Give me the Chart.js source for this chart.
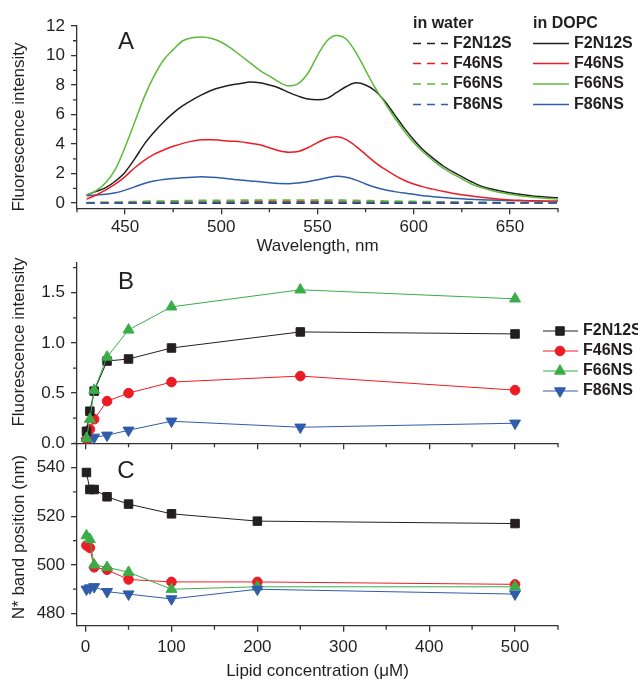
<!DOCTYPE html>
<html>
<head>
<meta charset="utf-8">
<title>Fluorescence spectra and lipid titration</title>
<script src="https://cdn.jsdelivr.net/npm/chart.js@4.4.1/dist/chart.umd.min.js"></script>
<style>
  html, body { margin: 0; padding: 0; background: #fff; }
  #quadro { position: relative; width: 638px; height: 682px; }
  #quadro canvas { position: absolute; left: 0; top: 0; }
</style>
</head>
<body>
<div id="quadro">
  <canvas id="graficoA" width="638" height="682"></canvas>
  <canvas id="graficoB" width="638" height="682"></canvas>
  <canvas id="graficoC" width="638" height="682"></canvas>
</div>
<script>
// ===== DADOS =====
const seriesNames = ['F2N12S', 'F46NS', 'F66NS', 'F86NS'];

// painel A: espectros (nm)
const wavelengths = [430, 435, 440, 445, 450, 455, 460, 465, 470, 475, 480, 485, 490, 495, 500, 505, 510, 515, 520, 525,
  530, 535, 540, 545, 550, 555, 560, 565, 570, 575, 580, 585, 590, 595, 600, 605, 610, 615, 620, 625,
  630, 635, 640, 645, 650, 655, 660, 665, 670, 675];

const dopcF2N12S = [0.55, 0.8, 1.05, 1.5, 2.1, 3.0, 4.0, 4.8, 5.5, 6.1, 6.6, 7.0, 7.35, 7.65, 7.85, 8.0, 8.1, 8.2, 8.15, 8.0,
  7.8, 7.5, 7.25, 7.05, 7.0, 7.1, 7.5, 7.9, 8.15, 8.0, 7.6, 6.9, 6.0, 5.1, 4.3, 3.6, 3.05, 2.55, 2.15, 1.8,
  1.45, 1.15, 0.97, 0.83, 0.7, 0.6, 0.52, 0.45, 0.4, 0.36];
const dopcF46NS = [0.28, 0.55, 0.9, 1.3, 1.8, 2.4, 2.9, 3.3, 3.6, 3.85, 4.05, 4.2, 4.3, 4.3, 4.25, 4.2, 4.15, 4.05, 3.95, 3.75,
  3.55, 3.45, 3.5, 3.75, 4.1, 4.4, 4.5, 4.3, 3.85, 3.3, 2.75, 2.3, 1.9, 1.55, 1.3, 1.1, 0.95, 0.8, 0.67, 0.57,
  0.48, 0.4, 0.33, 0.27, 0.22, 0.19, 0.16, 0.14, 0.13, 0.12];
const dopcF66NS = [0.55, 0.85, 1.4, 2.3, 3.8, 5.5, 7.2, 8.6, 9.7, 10.4, 11.0, 11.2, 11.25, 11.15, 10.9, 10.5, 10.0, 9.5, 9.0, 8.6,
  8.2, 7.95, 8.1, 8.8, 10.0, 11.0, 11.35, 11.1, 10.2, 9.0, 7.8, 6.8, 5.8, 4.9, 4.1, 3.45, 2.9, 2.4, 2.0, 1.65,
  1.3, 1.05, 0.87, 0.72, 0.6, 0.5, 0.43, 0.37, 0.32, 0.28];
const dopcF86NS = [0.5, 0.55, 0.6, 0.7, 0.88, 1.1, 1.33, 1.5, 1.6, 1.67, 1.72, 1.76, 1.78, 1.75, 1.7, 1.63, 1.56, 1.5, 1.45, 1.38,
  1.33, 1.32, 1.37, 1.45, 1.58, 1.72, 1.82, 1.75, 1.56, 1.3, 1.08, 0.9, 0.78, 0.68, 0.6, 0.5, 0.44, 0.38, 0.33, 0.29,
  0.26, 0.23, 0.21, 0.19, 0.17, 0.16, 0.15, 0.14, 0.13, 0.12];

const waterF2N12S = [0.01, 0.01, 0.01, 0.01, 0.01, 0.01, 0.01, 0.01, 0.01, 0.01, 0.01, 0.01, 0.01, 0.01, 0.01, 0.01, 0.01, 0.01, 0.01, 0.01,
  0.01, 0.01, 0.01, 0.01, 0.01, 0.01, 0.01, 0.01, 0.01, 0.01, 0.01, 0.01, 0.01, 0.01, 0.01, 0.01, 0.01, 0.01, 0.01, 0.01,
  0.01, 0.01, 0.01, 0.01, 0.01, 0.01, 0.01, 0.01, 0.01, 0.01];
const waterF46NS = [0.01, 0.02, 0.03, 0.03, 0.04, 0.04, 0.05, 0.05, 0.05, 0.06, 0.06, 0.06, 0.07, 0.07, 0.07, 0.07, 0.07, 0.08, 0.08, 0.08,
  0.08, 0.08, 0.08, 0.08, 0.08, 0.08, 0.07, 0.07, 0.07, 0.06, 0.06, 0.05, 0.05, 0.05, 0.04, 0.04, 0.04, 0.03, 0.03, 0.03,
  0.03, 0.02, 0.02, 0.02, 0.02, 0.02, 0.02, 0.02, 0.02, 0.02];
const waterF66NS = [0.03, 0.04, 0.05, 0.07, 0.08, 0.1, 0.12, 0.13, 0.14, 0.15, 0.16, 0.17, 0.18, 0.18, 0.19, 0.19, 0.2, 0.2, 0.21, 0.21,
  0.2, 0.2, 0.2, 0.2, 0.2, 0.2, 0.2, 0.19, 0.18, 0.17, 0.15, 0.14, 0.13, 0.12, 0.11, 0.1, 0.09, 0.08, 0.07, 0.07,
  0.06, 0.05, 0.05, 0.05, 0.04, 0.04, 0.04, 0.03, 0.03, 0.03];
const waterF86NS = [0.02, 0.02, 0.02, 0.02, 0.02, 0.03, 0.03, 0.03, 0.03, 0.03, 0.03, 0.03, 0.03, 0.03, 0.03, 0.03, 0.03, 0.03, 0.03, 0.03,
  0.03, 0.03, 0.03, 0.03, 0.03, 0.03, 0.03, 0.03, 0.03, 0.03, 0.03, 0.03, 0.03, 0.03, 0.03, 0.03, 0.03, 0.03, 0.03, 0.03,
  0.03, 0.03, 0.02, 0.02, 0.02, 0.02, 0.02, 0.02, 0.02, 0.02];

const aTicksX = [450, 500, 550, 600, 650];
const aMinorX = [425, 475, 525, 575, 625, 675];
const aTicksY = [0, 2, 4, 6, 8, 10, 12];
const aMinorY = [1, 3, 5, 7, 9, 11];

// painel B: intensidade vs concentração lipídica (uM)
const concB = [1, 5, 10, 25, 50, 100, 250, 500];
const intF2N12S = [0.12, 0.32, 0.52, 0.82, 0.84, 0.95, 1.11, 1.09];
const intF46NS = [0.04, 0.14, 0.24, 0.42, 0.50, 0.61, 0.67, 0.53];
const intF66NS = [0.05, 0.24, 0.53, 0.86, 1.13, 1.36, 1.53, 1.44];
const intF86NS = [0.02, 0.04, 0.06, 0.08, 0.13, 0.22, 0.16, 0.20];
const bTicksY = [0, 0.5, 1.0, 1.5];
const bMinorY = [0.25, 0.75, 1.25, 1.75];

// painel C: posição da banda N* (nm)
const concC = [1, 5, 10, 25, 50, 100, 200, 500];
const posF2N12S = [538, 531, 531, 528, 525, 521, 518, 517];
const posF46NS = [508, 507, 499, 498, 494, 493, 493, 492];
const posF66NS = [512, 510.5, 500, 499, 497, 490, 491, 491];
const posF86NS = [490, 490.5, 491, 489, 488, 486, 490, 488];
const cTicksY = [480, 500, 520, 540];
const cMinorY = [490, 510, 530, 550];

const concTicks = [0, 100, 200, 300, 400, 500];
const concMinor = [50, 150, 250, 350, 450, 550];

// ===== ESTILO =====
const FONTE = "'Liberation Sans', Arial, sans-serif";
const COR_TEXTO = '#231f20';
const COR_EIXO = '#333333';
const cores = {
  F2N12S: '#231f20',
  F46NS: '#ed1c24',
  F66NS: '#5dbb3a',
  F66NS_B: '#3aad48',
  F86NS: '#2f5daa'
};

Chart.defaults.font.family = FONTE;
Chart.defaults.font.size = 17;
Chart.defaults.color = COR_TEXTO;

function pontos(xs, ys) {
  return xs.map((x, i) => ({ x: x, y: ys[i] }));
}

function eixoX(min, max, ticks, opcoes) {
  return {
    type: 'linear', position: 'bottom', min: min, max: max, bounds: 'data',
    afterBuildTicks: s => { s.ticks = ticks.map(v => ({ value: v })); },
    afterFit: s => { s.height = opcoes.altura; },
    border: { display: true, color: COR_EIXO, width: 1.3 },
    grid: { drawOnChartArea: false, drawTicks: true, tickLength: 6, color: COR_EIXO, lineWidth: 1.3 },
    ticks: {
      autoSkip: false, maxRotation: 0, padding: opcoes.pad || 0, color: COR_TEXTO,
      callback: opcoes.semRotulo ? () => '' : v => String(v)
    },
    title: opcoes.titulo
      ? { display: true, text: opcoes.titulo, padding: 0, color: COR_TEXTO }
      : { display: false }
  };
}

function eixoY(min, max, ticks, opcoes) {
  return {
    type: 'linear', position: 'left', min: min, max: max, bounds: 'data',
    afterBuildTicks: s => { s.ticks = ticks.map(v => ({ value: v })); },
    afterFit: s => { s.width = 77; },
    border: { display: true, color: COR_EIXO, width: 1.3 },
    grid: { drawOnChartArea: false, drawTicks: true, tickLength: 6, color: COR_EIXO, lineWidth: 1.3 },
    ticks: { autoSkip: false, padding: 6, color: COR_TEXTO, callback: opcoes.formato || (v => String(v)) },
    title: { display: false }
  };
}

// ticks menores (o Chart.js não tem ticks secundários)
function ticksMenores(mapa) {
  return {
    id: 'ticksMenores',
    afterDraw(chart) {
      const ctx = chart.ctx;
      ctx.save();
      ctx.strokeStyle = COR_EIXO;
      ctx.lineWidth = 1.3;
      ctx.beginPath();
      Object.keys(mapa).forEach(id => {
        const s = chart.scales[id];
        mapa[id].forEach(v => {
          const p = s.getPixelForValue(v);
          if (s.isHorizontal()) {
            ctx.moveTo(p, s.top);
            ctx.lineTo(p, s.top + 4);
          } else {
            ctx.moveTo(s.right - 4, p);
            ctx.lineTo(s.right, p);
          }
        });
      });
      ctx.stroke();
      ctx.restore();
    }
  };
}

// letra do painel + título vertical (o título do Origin não fica centrado no eixo)
function textosPainel(letra, xLetra, yLetra, tituloY, yTitulo) {
  return {
    id: 'textos' + letra,
    afterDraw(chart) {
      const ctx = chart.ctx;
      ctx.save();
      ctx.fillStyle = COR_TEXTO;
      ctx.font = '24px ' + FONTE;
      ctx.textAlign = 'center';
      ctx.textBaseline = 'middle';
      ctx.fillText(letra, xLetra, yLetra);
      ctx.font = '17px ' + FONTE;
      ctx.translate(19.5, yTitulo);
      ctx.rotate(-Math.PI / 2);
      ctx.fillText(tituloY, 0, 0);
      ctx.restore();
    }
  };
}

// ===== LEGENDA DO PAINEL A =====
const legendaA = {
  id: 'legendaA',
  afterDraw(chart) {
    const ctx = chart.ctx;
    const linhas = [43.5, 63.5, 84, 104.5];
    const coresA = [cores.F2N12S, cores.F46NS, cores.F66NS, cores.F86NS];
    ctx.save();
    ctx.fillStyle = COR_TEXTO;
    ctx.font = 'bold 16px ' + FONTE;
    ctx.textBaseline = 'alphabetic';
    ctx.fillText('in water', 413, 28);
    ctx.fillText('in DOPC', 533, 28);
    ctx.textBaseline = 'middle';
    seriesNames.forEach((nome, i) => {
      const y = linhas[i];
      ctx.strokeStyle = coresA[i];
      ctx.lineWidth = 1.6;
      ctx.setLineDash([8, 6]);
      ctx.beginPath();
      ctx.moveTo(413, y);
      ctx.lineTo(448, y);
      ctx.stroke();
      ctx.setLineDash([]);
      ctx.beginPath();
      ctx.moveTo(533, y);
      ctx.lineTo(569, y);
      ctx.stroke();
      ctx.fillStyle = COR_TEXTO;
      ctx.fillText(nome, 453, y);
      ctx.fillText(nome, 574, y);
    });
    ctx.restore();
  }
};

// ===== LEGENDA DO PAINEL B =====
const marcadores = [
  { cor: cores.F2N12S, pointStyle: 'rect', radius: 6, rotation: 0 },
  { cor: cores.F46NS, pointStyle: 'circle', radius: 4.8, rotation: 0 },
  { cor: cores.F66NS_B, pointStyle: 'triangle', radius: 6.3, rotation: 0 },
  { cor: cores.F86NS, pointStyle: 'triangle', radius: 6.3, rotation: 180 }
];

const legendaB = {
  id: 'legendaB',
  afterDraw(chart) {
    const ctx = chart.ctx;
    const linhas = [331, 351, 371, 391];
    ctx.save();
    ctx.font = 'bold 16px ' + FONTE;
    ctx.textBaseline = 'middle';
    seriesNames.forEach((nome, i) => {
      const y = linhas[i];
      const m = marcadores[i];
      ctx.strokeStyle = m.cor;
      ctx.fillStyle = m.cor;
      ctx.lineWidth = 1;
      ctx.beginPath();
      ctx.moveTo(543, y);
      ctx.lineTo(578, y);
      ctx.stroke();
      Chart.helpers.drawPoint(ctx, { pointStyle: m.pointStyle, radius: m.radius, rotation: m.rotation, borderWidth: 1 }, 560, y);
      ctx.fillStyle = COR_TEXTO;
      ctx.fillText(nome, 583, y);
    });
    ctx.restore();
  }
};

// ===== GRÁFICO A =====
function linhaEspectro(dados, cor, tracejado) {
  return {
    data: pontos(wavelengths, dados),
    borderColor: cor,
    borderWidth: tracejado ? 1.8 : 1.5,
    borderDash: tracejado ? [8, 6] : [],
    pointRadius: 0,
    cubicInterpolationMode: 'monotone',
    fill: false
  };
}

new Chart(document.getElementById('graficoA'), {
  type: 'line',
  data: {
    datasets: [
      linhaEspectro(waterF86NS, cores.F86NS, true),
      linhaEspectro(waterF66NS, cores.F66NS, true),
      linhaEspectro(waterF46NS, cores.F46NS, true),
      linhaEspectro(waterF2N12S, cores.F2N12S, true),
      linhaEspectro(dopcF66NS, cores.F66NS, false),
      linhaEspectro(dopcF2N12S, cores.F2N12S, false),
      linhaEspectro(dopcF46NS, cores.F46NS, false),
      linhaEspectro(dopcF86NS, cores.F86NS, false)
    ]
  },
  options: {
    responsive: false, animation: false, devicePixelRatio: 1,
    layout: { padding: { top: 26, left: 0, right: 80, bottom: 682 - 208.3 - 48 } },
    plugins: { legend: { display: false }, tooltip: { enabled: false } },
    scales: {
      x: eixoX(425, 675, aTicksX, { altura: 48, pad: 3, titulo: 'Wavelength, nm' }),
      y: eixoY(-0.35, 12, aTicksY, {})
    }
  },
  plugins: [ticksMenores({ x: aMinorX, y: aMinorY }), textosPainel('A', 126, 42, 'Fluorescence intensity', 127), legendaA]
});

// ===== GRÁFICOS B e C =====
function linhaMarcador(xs, ys, i) {
  const m = marcadores[i];
  return {
    data: pontos(xs, ys),
    borderColor: m.cor,
    backgroundColor: m.cor,
    borderWidth: 1,
    pointStyle: m.pointStyle,
    pointRadius: m.radius,
    pointRotation: m.rotation,
    pointBorderWidth: 1,
    pointBorderColor: m.cor,
    pointBackgroundColor: m.cor,
    tension: 0,
    fill: false
  };
}

new Chart(document.getElementById('graficoB'), {
  type: 'line',
  data: {
    datasets: [
      linhaMarcador(concB, intF66NS, 2),
      linhaMarcador(concB, intF2N12S, 0),
      linhaMarcador(concB, intF46NS, 1),
      linhaMarcador(concB, intF86NS, 3)
    ]
  },
  options: {
    responsive: false, animation: false, devicePixelRatio: 1,
    layout: { padding: { top: 262.7, left: 0, right: 80, bottom: 682 - 443.3 - 10 } },
    plugins: { legend: { display: false }, tooltip: { enabled: false } },
    scales: {
      x: eixoX(-10, 550, concTicks, { altura: 10, semRotulo: true }),
      y: eixoY(0, 1.8, bTicksY, { formato: v => v.toFixed(1) })
    }
  },
  plugins: [ticksMenores({ x: concMinor, y: bMinorY }), textosPainel('B', 126, 282, 'Fluorescence intensity', 342), legendaB]
});

new Chart(document.getElementById('graficoC'), {
  type: 'line',
  data: {
    datasets: [
      linhaMarcador(concC, posF86NS, 3),
      linhaMarcador(concC, posF66NS, 2),
      linhaMarcador(concC, posF46NS, 1),
      linhaMarcador(concC, posF2N12S, 0)
    ]
  },
  options: {
    responsive: false, animation: false, devicePixelRatio: 1,
    layout: { padding: { top: 443.3, left: 0, right: 80, bottom: 0 } },
    plugins: { legend: { display: false }, tooltip: { enabled: false } },
    scales: {
      x: eixoX(-10, 550, concTicks, { altura: 682 - 625.7, pad: 5, titulo: 'Lipid concentration (\u03bcM)' }),
      y: eixoY(475, 550, cTicksY, {})
    }
  },
  plugins: [ticksMenores({ x: concMinor, y: cMinorY }), textosPainel('C', 126, 471, 'N* band position (nm)', 537)]
});
</script>
</body>
</html>
